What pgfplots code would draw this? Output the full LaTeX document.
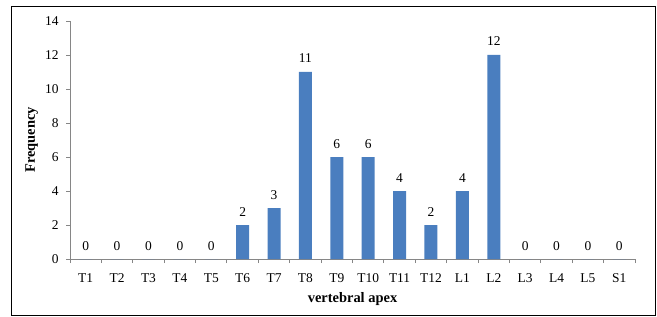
\documentclass[border=0pt]{standalone}
\usepackage{fontspec}
\setmainfont{Liberation Serif}
\usepackage{pgfplots}
\pgfplotsset{compat=1.18}
\definecolor{barblue}{HTML}{4A7EBF}
\definecolor{axisgray}{HTML}{868686}
\begin{document}
\begin{tikzpicture}[x=1bp,y=1bp]
\useasboundingbox (-70,-57) rectangle (587,259);
\draw[black,line width=0.8bp] (-59,-56) rectangle (585,253);
\begin{axis}[
  at={(0,0)}, anchor=south west,
  scale only axis, width=565bp, height=238bp,
  xmin=-0.5, xmax=17.5, ymin=0, ymax=14,
  axis x line=bottom, axis y line=left,
  axis line style={draw=axisgray, line width=0.9bp, -},
  ytick={0,2,...,14},
  xtick={0,...,17},
  xticklabels={T1,T2,T3,T4,T5,T6,T7,T8,T9,T10,T11,T12,L1,L2,L3,L4,L5,S1},
  major x tick style={draw=none},
  minor xtick={-0.5,0.5,...,17.5},
  tick align=outside,
  tick style={draw=axisgray, line width=0.9bp},
  major tick length=4bp, minor tick length=4bp,
  /pgf/number format/assume math mode=true,
  ticklabel style={font=\fontsize{13.5}{15}\selectfont},
  xticklabel style={anchor=base, yshift=-19bp},
  yticklabel style={anchor=east, xshift=-4bp},
  xlabel={\textbf{vertebral apex}},
  ylabel={\textbf{Frequency}},
  every axis x label/.style={at={(axis description cs:0.5,-0.168)}, anchor=center, font=\fontsize{14.5}{16}\selectfont},
  every axis y label/.style={at={(axis description cs:-0.068,0.5)}, rotate=90, anchor=center, font=\fontsize{14.5}{16}\selectfont},
  ybar, bar width=13bp,
  nodes near coords,
  every node near coord/.append style={font=\fontsize{13.5}{15}\selectfont, anchor=base, yshift=9bp},
  clip=false,
]
\addplot[fill=barblue, draw=none] coordinates {
(0,0) (1,0) (2,0) (3,0) (4,0) (5,2) (6,3) (7,11) (8,6) (9,6) (10,4) (11,2) (12,4) (13,12) (14,0) (15,0) (16,0) (17,0)
};
\end{axis}
\end{tikzpicture}
\end{document}
